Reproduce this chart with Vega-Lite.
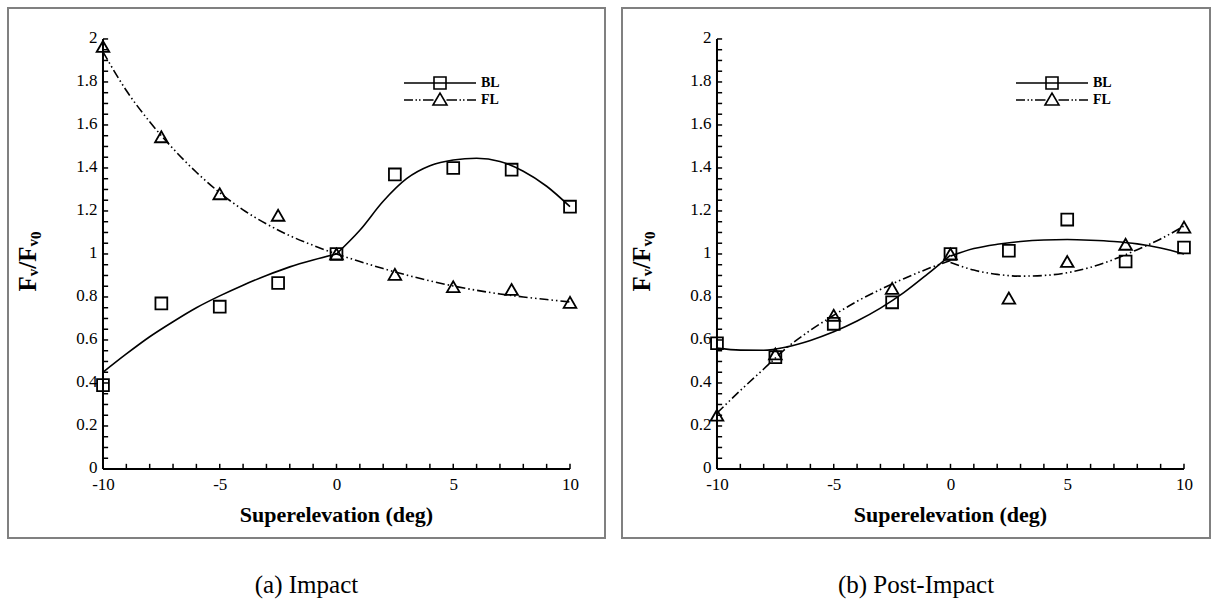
{
  "$schema": "https://vega.github.io/schema/vega-lite/v6.json",
  "padding": {"left": 7, "top": 7, "right": 0, "bottom": 0},
  "autosize": {"type": "pad"},
  "background": "white",
  "config": {
    "view": {"stroke": "#808080", "strokeWidth": 2},
    "font": "Liberation Serif",
    "axis": {"domain": false, "ticks": false, "grid": false, "labelFont": "Liberation Serif", "labelFontSize": 17, "labelColor": "black", "titleFont": "Liberation Serif", "titleFontSize": 22, "titleFontWeight": "bold", "titleColor": "black", "labelFlush": false, "labelOverlap": false}
  },
  "datasets": {
    "pts": [
      {"panel": "a", "series": "BL", "x": -10, "y": 0.39},
      {"panel": "a", "series": "BL", "x": -7.5, "y": 0.77},
      {"panel": "a", "series": "BL", "x": -5, "y": 0.755},
      {"panel": "a", "series": "BL", "x": -2.5, "y": 0.865},
      {"panel": "a", "series": "BL", "x": 0, "y": 1.0},
      {"panel": "a", "series": "BL", "x": 2.5, "y": 1.37},
      {"panel": "a", "series": "BL", "x": 5, "y": 1.4},
      {"panel": "a", "series": "BL", "x": 7.5, "y": 1.392},
      {"panel": "a", "series": "BL", "x": 10, "y": 1.22},
      {"panel": "a", "series": "FL", "x": -10, "y": 1.965},
      {"panel": "a", "series": "FL", "x": -7.5, "y": 1.545},
      {"panel": "a", "series": "FL", "x": -5, "y": 1.28},
      {"panel": "a", "series": "FL", "x": -2.5, "y": 1.18},
      {"panel": "a", "series": "FL", "x": 0, "y": 1.0},
      {"panel": "a", "series": "FL", "x": 2.5, "y": 0.905},
      {"panel": "a", "series": "FL", "x": 5, "y": 0.848},
      {"panel": "a", "series": "FL", "x": 7.5, "y": 0.835},
      {"panel": "a", "series": "FL", "x": 10, "y": 0.775},
      {"panel": "b", "series": "BL", "x": -10, "y": 0.585},
      {"panel": "b", "series": "BL", "x": -7.5, "y": 0.52},
      {"panel": "b", "series": "BL", "x": -5, "y": 0.675},
      {"panel": "b", "series": "BL", "x": -2.5, "y": 0.775},
      {"panel": "b", "series": "BL", "x": 0, "y": 1.0},
      {"panel": "b", "series": "BL", "x": 2.5, "y": 1.015},
      {"panel": "b", "series": "BL", "x": 5, "y": 1.16},
      {"panel": "b", "series": "BL", "x": 7.5, "y": 0.965},
      {"panel": "b", "series": "BL", "x": 10, "y": 1.03},
      {"panel": "b", "series": "FL", "x": -10, "y": 0.25},
      {"panel": "b", "series": "FL", "x": -7.5, "y": 0.535},
      {"panel": "b", "series": "FL", "x": -5, "y": 0.715},
      {"panel": "b", "series": "FL", "x": -2.5, "y": 0.84},
      {"panel": "b", "series": "FL", "x": 0, "y": 1.0},
      {"panel": "b", "series": "FL", "x": 2.5, "y": 0.795},
      {"panel": "b", "series": "FL", "x": 5, "y": 0.965},
      {"panel": "b", "series": "FL", "x": 7.5, "y": 1.045},
      {"panel": "b", "series": "FL", "x": 10, "y": 1.125}
    ],
    "curves": [
      {"panel": "a", "series": "BL", "part": "BL1", "x": -10, "y": 0.45},
      {"panel": "a", "series": "BL", "part": "BL1", "x": -9, "y": 0.535},
      {"panel": "a", "series": "BL", "part": "BL1", "x": -8, "y": 0.615},
      {"panel": "a", "series": "BL", "part": "BL1", "x": -7, "y": 0.685},
      {"panel": "a", "series": "BL", "part": "BL1", "x": -6, "y": 0.75},
      {"panel": "a", "series": "BL", "part": "BL1", "x": -5, "y": 0.805},
      {"panel": "a", "series": "BL", "part": "BL1", "x": -4, "y": 0.855},
      {"panel": "a", "series": "BL", "part": "BL1", "x": -3, "y": 0.9},
      {"panel": "a", "series": "BL", "part": "BL1", "x": -2, "y": 0.94},
      {"panel": "a", "series": "BL", "part": "BL1", "x": -1, "y": 0.972},
      {"panel": "a", "series": "BL", "part": "BL1", "x": 0, "y": 1.0},
      {"panel": "a", "series": "BL", "part": "BL2", "x": 0, "y": 1.0},
      {"panel": "a", "series": "BL", "part": "BL2", "x": 1, "y": 1.11},
      {"panel": "a", "series": "BL", "part": "BL2", "x": 2, "y": 1.245},
      {"panel": "a", "series": "BL", "part": "BL2", "x": 3, "y": 1.35},
      {"panel": "a", "series": "BL", "part": "BL2", "x": 4, "y": 1.41},
      {"panel": "a", "series": "BL", "part": "BL2", "x": 5, "y": 1.437},
      {"panel": "a", "series": "BL", "part": "BL2", "x": 6, "y": 1.445},
      {"panel": "a", "series": "BL", "part": "BL2", "x": 7, "y": 1.43},
      {"panel": "a", "series": "BL", "part": "BL2", "x": 8, "y": 1.385},
      {"panel": "a", "series": "BL", "part": "BL2", "x": 9, "y": 1.315},
      {"panel": "a", "series": "BL", "part": "BL2", "x": 10, "y": 1.22},
      {"panel": "a", "series": "FL", "part": "FL1", "x": -10, "y": 1.94},
      {"panel": "a", "series": "FL", "part": "FL1", "x": -9, "y": 1.76},
      {"panel": "a", "series": "FL", "part": "FL1", "x": -8, "y": 1.615},
      {"panel": "a", "series": "FL", "part": "FL1", "x": -7, "y": 1.49},
      {"panel": "a", "series": "FL", "part": "FL1", "x": -6, "y": 1.38},
      {"panel": "a", "series": "FL", "part": "FL1", "x": -5, "y": 1.285},
      {"panel": "a", "series": "FL", "part": "FL1", "x": -4, "y": 1.205},
      {"panel": "a", "series": "FL", "part": "FL1", "x": -3, "y": 1.14},
      {"panel": "a", "series": "FL", "part": "FL1", "x": -2, "y": 1.085},
      {"panel": "a", "series": "FL", "part": "FL1", "x": -1, "y": 1.04},
      {"panel": "a", "series": "FL", "part": "FL1", "x": 0, "y": 1.0},
      {"panel": "a", "series": "FL", "part": "FL1", "x": 1, "y": 0.965},
      {"panel": "a", "series": "FL", "part": "FL1", "x": 2, "y": 0.932},
      {"panel": "a", "series": "FL", "part": "FL1", "x": 3, "y": 0.902},
      {"panel": "a", "series": "FL", "part": "FL1", "x": 4, "y": 0.875},
      {"panel": "a", "series": "FL", "part": "FL1", "x": 5, "y": 0.851},
      {"panel": "a", "series": "FL", "part": "FL1", "x": 6, "y": 0.831},
      {"panel": "a", "series": "FL", "part": "FL1", "x": 7, "y": 0.814},
      {"panel": "a", "series": "FL", "part": "FL1", "x": 8, "y": 0.8},
      {"panel": "a", "series": "FL", "part": "FL1", "x": 9, "y": 0.788},
      {"panel": "a", "series": "FL", "part": "FL1", "x": 10, "y": 0.777},
      {"panel": "b", "series": "BL", "part": "BL1", "x": -10, "y": 0.562},
      {"panel": "b", "series": "BL", "part": "BL1", "x": -9, "y": 0.553},
      {"panel": "b", "series": "BL", "part": "BL1", "x": -8, "y": 0.552},
      {"panel": "b", "series": "BL", "part": "BL1", "x": -7, "y": 0.568},
      {"panel": "b", "series": "BL", "part": "BL1", "x": -6, "y": 0.598},
      {"panel": "b", "series": "BL", "part": "BL1", "x": -5, "y": 0.638},
      {"panel": "b", "series": "BL", "part": "BL1", "x": -4, "y": 0.688},
      {"panel": "b", "series": "BL", "part": "BL1", "x": -3, "y": 0.748},
      {"panel": "b", "series": "BL", "part": "BL1", "x": -2, "y": 0.82},
      {"panel": "b", "series": "BL", "part": "BL1", "x": -1, "y": 0.905},
      {"panel": "b", "series": "BL", "part": "BL1", "x": 0, "y": 0.995},
      {"panel": "b", "series": "BL", "part": "BL2", "x": 0, "y": 0.99},
      {"panel": "b", "series": "BL", "part": "BL2", "x": 1, "y": 1.025},
      {"panel": "b", "series": "BL", "part": "BL2", "x": 2, "y": 1.045},
      {"panel": "b", "series": "BL", "part": "BL2", "x": 3, "y": 1.058},
      {"panel": "b", "series": "BL", "part": "BL2", "x": 4, "y": 1.065},
      {"panel": "b", "series": "BL", "part": "BL2", "x": 5, "y": 1.067},
      {"panel": "b", "series": "BL", "part": "BL2", "x": 6, "y": 1.064},
      {"panel": "b", "series": "BL", "part": "BL2", "x": 7, "y": 1.058},
      {"panel": "b", "series": "BL", "part": "BL2", "x": 8, "y": 1.047},
      {"panel": "b", "series": "BL", "part": "BL2", "x": 9, "y": 1.028},
      {"panel": "b", "series": "BL", "part": "BL2", "x": 10, "y": 1.0},
      {"panel": "b", "series": "FL", "part": "FL1", "x": -10, "y": 0.26},
      {"panel": "b", "series": "FL", "part": "FL1", "x": -9, "y": 0.365},
      {"panel": "b", "series": "FL", "part": "FL1", "x": -8, "y": 0.465},
      {"panel": "b", "series": "FL", "part": "FL1", "x": -7, "y": 0.565},
      {"panel": "b", "series": "FL", "part": "FL1", "x": -6, "y": 0.645},
      {"panel": "b", "series": "FL", "part": "FL1", "x": -5, "y": 0.715},
      {"panel": "b", "series": "FL", "part": "FL1", "x": -4, "y": 0.78},
      {"panel": "b", "series": "FL", "part": "FL1", "x": -3, "y": 0.835},
      {"panel": "b", "series": "FL", "part": "FL1", "x": -2, "y": 0.885},
      {"panel": "b", "series": "FL", "part": "FL1", "x": -1, "y": 0.93},
      {"panel": "b", "series": "FL", "part": "FL1", "x": 0, "y": 0.97},
      {"panel": "b", "series": "FL", "part": "FL2", "x": 0, "y": 0.96},
      {"panel": "b", "series": "FL", "part": "FL2", "x": 1, "y": 0.925},
      {"panel": "b", "series": "FL", "part": "FL2", "x": 2, "y": 0.905},
      {"panel": "b", "series": "FL", "part": "FL2", "x": 3, "y": 0.897},
      {"panel": "b", "series": "FL", "part": "FL2", "x": 4, "y": 0.9},
      {"panel": "b", "series": "FL", "part": "FL2", "x": 5, "y": 0.913},
      {"panel": "b", "series": "FL", "part": "FL2", "x": 6, "y": 0.938},
      {"panel": "b", "series": "FL", "part": "FL2", "x": 7, "y": 0.975},
      {"panel": "b", "series": "FL", "part": "FL2", "x": 8, "y": 1.02},
      {"panel": "b", "series": "FL", "part": "FL2", "x": 9, "y": 1.07},
      {"panel": "b", "series": "FL", "part": "FL2", "x": 10, "y": 1.13}
    ],
    "ticks": [
      {"axis": "x", "v": -10, "kind": "major"}, {"axis": "x", "v": -9, "kind": "minor"}, {"axis": "x", "v": -8, "kind": "minor"}, {"axis": "x", "v": -7, "kind": "minor"}, {"axis": "x", "v": -6, "kind": "minor"},
      {"axis": "x", "v": -5, "kind": "major"}, {"axis": "x", "v": -4, "kind": "minor"}, {"axis": "x", "v": -3, "kind": "minor"}, {"axis": "x", "v": -2, "kind": "minor"}, {"axis": "x", "v": -1, "kind": "minor"},
      {"axis": "x", "v": 0, "kind": "major"}, {"axis": "x", "v": 1, "kind": "minor"}, {"axis": "x", "v": 2, "kind": "minor"}, {"axis": "x", "v": 3, "kind": "minor"}, {"axis": "x", "v": 4, "kind": "minor"},
      {"axis": "x", "v": 5, "kind": "major"}, {"axis": "x", "v": 6, "kind": "minor"}, {"axis": "x", "v": 7, "kind": "minor"}, {"axis": "x", "v": 8, "kind": "minor"}, {"axis": "x", "v": 9, "kind": "minor"},
      {"axis": "x", "v": 10, "kind": "major"},
      {"axis": "y", "v": 0, "kind": "major"}, {"axis": "y", "v": 0.05, "kind": "minor"}, {"axis": "y", "v": 0.1, "kind": "minor"}, {"axis": "y", "v": 0.15, "kind": "minor"},
      {"axis": "y", "v": 0.2, "kind": "major"}, {"axis": "y", "v": 0.25, "kind": "minor"}, {"axis": "y", "v": 0.3, "kind": "minor"}, {"axis": "y", "v": 0.35, "kind": "minor"},
      {"axis": "y", "v": 0.4, "kind": "major"}, {"axis": "y", "v": 0.45, "kind": "minor"}, {"axis": "y", "v": 0.5, "kind": "minor"}, {"axis": "y", "v": 0.55, "kind": "minor"},
      {"axis": "y", "v": 0.6, "kind": "major"}, {"axis": "y", "v": 0.65, "kind": "minor"}, {"axis": "y", "v": 0.7, "kind": "minor"}, {"axis": "y", "v": 0.75, "kind": "minor"},
      {"axis": "y", "v": 0.8, "kind": "major"}, {"axis": "y", "v": 0.85, "kind": "minor"}, {"axis": "y", "v": 0.9, "kind": "minor"}, {"axis": "y", "v": 0.95, "kind": "minor"},
      {"axis": "y", "v": 1.0, "kind": "major"}, {"axis": "y", "v": 1.05, "kind": "minor"}, {"axis": "y", "v": 1.1, "kind": "minor"}, {"axis": "y", "v": 1.15, "kind": "minor"},
      {"axis": "y", "v": 1.2, "kind": "major"}, {"axis": "y", "v": 1.25, "kind": "minor"}, {"axis": "y", "v": 1.3, "kind": "minor"}, {"axis": "y", "v": 1.35, "kind": "minor"},
      {"axis": "y", "v": 1.4, "kind": "major"}, {"axis": "y", "v": 1.45, "kind": "minor"}, {"axis": "y", "v": 1.5, "kind": "minor"}, {"axis": "y", "v": 1.55, "kind": "minor"},
      {"axis": "y", "v": 1.6, "kind": "major"}, {"axis": "y", "v": 1.65, "kind": "minor"}, {"axis": "y", "v": 1.7, "kind": "minor"}, {"axis": "y", "v": 1.75, "kind": "minor"},
      {"axis": "y", "v": 1.8, "kind": "major"}, {"axis": "y", "v": 1.85, "kind": "minor"}, {"axis": "y", "v": 1.9, "kind": "minor"}, {"axis": "y", "v": 1.95, "kind": "minor"},
      {"axis": "y", "v": 2.0, "kind": "major"}
    ]
  },
  "spacing": 14,
  "resolve": {"scale": {"x": "independent", "y": "independent", "shape": "independent"}, "legend": {"shape": "independent"}},
  "hconcat": [
    {
      "width": 597,
      "height": 530,
      "title": {"text": "(a) Impact", "orient": "bottom", "anchor": "middle", "frame": "group", "offset": 35, "font": "Liberation Serif", "fontSize": 25, "fontWeight": "normal", "color": "black"},
      "layer": [
        {
          "data": {"values": [{}]},
          "mark": {"type": "rule", "color": "black", "strokeWidth": 2},
          "encoding": {
            "x": {"datum": -10, "type": "quantitative", "scale": {"domain": [-14.068, 11.499], "nice": false, "zero": false},
              "axis": {"values": [-10, -5, 0, 5, 10], "offset": -69, "labelExpr": "'' + datum.value", "labelPadding": 7, "title": "Superelevation (deg)", "titleX": 328, "titleY": 45, "titleAlign": "center", "titleBaseline": "middle"}},
            "x2": {"datum": 10},
            "y": {"datum": 0, "type": "quantitative", "scale": {"domain": [-0.321, 2.144], "nice": false, "zero": false},
              "axis": {"values": [0, 0.2, 0.4, 0.6, 0.8, 1, 1.2, 1.4, 1.6, 1.8, 2], "offset": -95, "labelExpr": "'' + datum.value", "labelPadding": 6, "labelOffset": -1, "title": "Fᵥ/Fᵥ₀", "titleFontSize": 25, "titleX": -76, "titleY": 253, "titleAngle": -90, "titleAlign": "center", "titleBaseline": "middle"}}
          }
        },
        {
          "data": {"values": [{}]},
          "mark": {"type": "rule", "color": "black", "strokeWidth": 2},
          "encoding": {
            "x": {"datum": -10, "type": "quantitative", "scale": {"domain": [-14.068, 11.499], "nice": false, "zero": false}},
            "y": {"datum": 0, "type": "quantitative", "scale": {"domain": [-0.321, 2.144], "nice": false, "zero": false}},
            "y2": {"datum": 2}
          }
        },
        {
          "data": {"name": "ticks"},
          "transform": [{"filter": "datum.axis == 'x'"}],
          "mark": {"type": "rule", "color": "black", "strokeWidth": 1.5},
          "encoding": {
            "x": {"field": "v", "type": "quantitative", "scale": {"domain": [-14.068, 11.499], "nice": false, "zero": false}},
            "y": {"datum": 0, "type": "quantitative", "scale": {"domain": [-0.321, 2.144], "nice": false, "zero": false}},
            "y2": {"condition": {"test": "datum.kind == 'major'", "datum": 0.044}, "datum": 0.024}
          }
        },
        {
          "data": {"name": "ticks"},
          "transform": [{"filter": "datum.axis == 'y'"}],
          "mark": {"type": "rule", "color": "black", "strokeWidth": 1.5},
          "encoding": {
            "y": {"field": "v", "type": "quantitative", "scale": {"domain": [-0.321, 2.144], "nice": false, "zero": false}},
            "x": {"datum": -10, "type": "quantitative", "scale": {"domain": [-14.068, 11.499], "nice": false, "zero": false}},
            "x2": {"condition": {"test": "datum.kind == 'major'", "datum": -9.6}, "datum": -9.78}
          }
        },
        {
          "data": {"name": "curves"},
          "transform": [{"filter": "datum.panel == 'a' && datum.series == 'BL'"}],
          "mark": {"type": "line", "color": "black", "strokeWidth": 1.6, "interpolate": "monotone"},
          "encoding": {
            "x": {"field": "x", "type": "quantitative", "scale": {"domain": [-14.068, 11.499], "nice": false, "zero": false}},
            "y": {"field": "y", "type": "quantitative", "scale": {"domain": [-0.321, 2.144], "nice": false, "zero": false}},
            "detail": {"field": "part"}
          }
        },
        {
          "data": {"name": "curves"},
          "transform": [{"filter": "datum.panel == 'a' && datum.series == 'FL'"}],
          "mark": {"type": "line", "color": "black", "strokeWidth": 1.6, "interpolate": "monotone", "strokeDash": [9, 3, 1.5, 3, 1.5, 3]},
          "encoding": {
            "x": {"field": "x", "type": "quantitative", "scale": {"domain": [-14.068, 11.499], "nice": false, "zero": false}},
            "y": {"field": "y", "type": "quantitative", "scale": {"domain": [-0.321, 2.144], "nice": false, "zero": false}},
            "detail": {"field": "part"}
          }
        },
        {
          "data": {"name": "pts"},
          "transform": [{"filter": "datum.panel == 'a' && datum.series == 'BL'"}],
          "mark": {"type": "point", "shape": "square", "filled": false, "color": "black", "strokeWidth": 1.8, "size": 140, "opacity": 1},
          "encoding": {
            "x": {"field": "x", "type": "quantitative", "scale": {"domain": [-14.068, 11.499], "nice": false, "zero": false}},
            "y": {"field": "y", "type": "quantitative", "scale": {"domain": [-0.321, 2.144], "nice": false, "zero": false}}
          }
        },
        {
          "data": {"name": "pts"},
          "transform": [{"filter": "datum.panel == 'a' && datum.series == 'FL'"}],
          "mark": {"type": "point", "shape": "triangle-up", "filled": false, "color": "black", "strokeWidth": 1.8, "size": 160, "opacity": 1},
          "encoding": {
            "x": {"field": "x", "type": "quantitative", "scale": {"domain": [-14.068, 11.499], "nice": false, "zero": false}},
            "y": {"field": "y", "type": "quantitative", "scale": {"domain": [-0.321, 2.144], "nice": false, "zero": false}}
          }
        },
        {
          "data": {"name": "pts"},
          "transform": [{"filter": "datum.panel == 'a'"}],
          "mark": {"type": "point", "filled": false, "color": "black", "strokeWidth": 1.6, "size": 100, "opacity": 0},
          "encoding": {
            "x": {"field": "x", "type": "quantitative", "scale": {"domain": [-14.068, 11.499], "nice": false, "zero": false}},
            "y": {"field": "y", "type": "quantitative", "scale": {"domain": [-0.321, 2.144], "nice": false, "zero": false}},
            "shape": {"field": "series", "type": "nominal", "scale": {"domain": ["BL", "FL"], "range": ["M-7.2,0H7.2M-1.2,-1.2H1.2V1.2H-1.2Z", "M-7.2,0H-5.4M-4.9,0H-4.6M-4.2,0H-3.9M-3.4,0H-1.3M-1.4,1L0,-1.4L1.4,1ZM1.3,0H3.4M3.9,0H4.2M4.6,0H4.9M5.4,0H7.2"]},
              "legend": {"orient": "none", "legendX": 425, "legendY": 68, "title": null, "padding": 0, "symbolSize": 100, "symbolStrokeWidth": 1.6, "symbolOpacity": 1, "symbolStrokeColor": "black", "symbolFillColor": "transparent", "labelFont": "Liberation Serif", "labelFontWeight": "bold", "labelFontSize": 14, "labelColor": "black", "labelOffset": 34, "rowPadding": -4,
                "encode": {"symbols": {"stroke": {"value": "black"}, "fill": {"value": "transparent"}, "opacity": {"value": 1}}}}}
          }
        }
      ]
    },
    {
      "width": 588,
      "height": 530,
      "title": {"text": "(b) Post-Impact", "orient": "bottom", "anchor": "middle", "frame": "group", "offset": 35, "font": "Liberation Serif", "fontSize": 25, "fontWeight": "normal", "color": "black"},
      "layer": [
        {
          "data": {"values": [{}]},
          "mark": {"type": "rule", "color": "black", "strokeWidth": 2},
          "encoding": {
            "x": {"datum": -10, "type": "quantitative", "scale": {"domain": [-14.068, 11.114], "nice": false, "zero": false},
              "axis": {"values": [-10, -5, 0, 5, 10], "offset": -69, "labelExpr": "'' + datum.value", "labelPadding": 7, "title": "Superelevation (deg)", "titleX": 328, "titleY": 45, "titleAlign": "center", "titleBaseline": "middle"}},
            "x2": {"datum": 10},
            "y": {"datum": 0, "type": "quantitative", "scale": {"domain": [-0.321, 2.144], "nice": false, "zero": false},
              "axis": {"values": [0, 0.2, 0.4, 0.6, 0.8, 1, 1.2, 1.4, 1.6, 1.8, 2], "offset": -95, "labelExpr": "'' + datum.value", "labelPadding": 6, "labelOffset": -1, "title": "Fᵥ/Fᵥ₀", "titleFontSize": 25, "titleX": -76, "titleY": 253, "titleAngle": -90, "titleAlign": "center", "titleBaseline": "middle"}}
          }
        },
        {
          "data": {"values": [{}]},
          "mark": {"type": "rule", "color": "black", "strokeWidth": 2},
          "encoding": {
            "x": {"datum": -10, "type": "quantitative", "scale": {"domain": [-14.068, 11.114], "nice": false, "zero": false}},
            "y": {"datum": 0, "type": "quantitative", "scale": {"domain": [-0.321, 2.144], "nice": false, "zero": false}},
            "y2": {"datum": 2}
          }
        },
        {
          "data": {"name": "ticks"},
          "transform": [{"filter": "datum.axis == 'x'"}],
          "mark": {"type": "rule", "color": "black", "strokeWidth": 1.5},
          "encoding": {
            "x": {"field": "v", "type": "quantitative", "scale": {"domain": [-14.068, 11.114], "nice": false, "zero": false}},
            "y": {"datum": 0, "type": "quantitative", "scale": {"domain": [-0.321, 2.144], "nice": false, "zero": false}},
            "y2": {"condition": {"test": "datum.kind == 'major'", "datum": 0.044}, "datum": 0.024}
          }
        },
        {
          "data": {"name": "ticks"},
          "transform": [{"filter": "datum.axis == 'y'"}],
          "mark": {"type": "rule", "color": "black", "strokeWidth": 1.5},
          "encoding": {
            "y": {"field": "v", "type": "quantitative", "scale": {"domain": [-0.321, 2.144], "nice": false, "zero": false}},
            "x": {"datum": -10, "type": "quantitative", "scale": {"domain": [-14.068, 11.114], "nice": false, "zero": false}},
            "x2": {"condition": {"test": "datum.kind == 'major'", "datum": -9.6}, "datum": -9.78}
          }
        },
        {
          "data": {"name": "curves"},
          "transform": [{"filter": "datum.panel == 'b' && datum.series == 'BL'"}],
          "mark": {"type": "line", "color": "black", "strokeWidth": 1.6, "interpolate": "monotone"},
          "encoding": {
            "x": {"field": "x", "type": "quantitative", "scale": {"domain": [-14.068, 11.114], "nice": false, "zero": false}},
            "y": {"field": "y", "type": "quantitative", "scale": {"domain": [-0.321, 2.144], "nice": false, "zero": false}},
            "detail": {"field": "part"}
          }
        },
        {
          "data": {"name": "curves"},
          "transform": [{"filter": "datum.panel == 'b' && datum.series == 'FL'"}],
          "mark": {"type": "line", "color": "black", "strokeWidth": 1.6, "interpolate": "monotone", "strokeDash": [9, 3, 1.5, 3, 1.5, 3]},
          "encoding": {
            "x": {"field": "x", "type": "quantitative", "scale": {"domain": [-14.068, 11.114], "nice": false, "zero": false}},
            "y": {"field": "y", "type": "quantitative", "scale": {"domain": [-0.321, 2.144], "nice": false, "zero": false}},
            "detail": {"field": "part"}
          }
        },
        {
          "data": {"name": "pts"},
          "transform": [{"filter": "datum.panel == 'b' && datum.series == 'BL'"}],
          "mark": {"type": "point", "shape": "square", "filled": false, "color": "black", "strokeWidth": 1.8, "size": 140, "opacity": 1},
          "encoding": {
            "x": {"field": "x", "type": "quantitative", "scale": {"domain": [-14.068, 11.114], "nice": false, "zero": false}},
            "y": {"field": "y", "type": "quantitative", "scale": {"domain": [-0.321, 2.144], "nice": false, "zero": false}}
          }
        },
        {
          "data": {"name": "pts"},
          "transform": [{"filter": "datum.panel == 'b' && datum.series == 'FL'"}],
          "mark": {"type": "point", "shape": "triangle-up", "filled": false, "color": "black", "strokeWidth": 1.8, "size": 160, "opacity": 1},
          "encoding": {
            "x": {"field": "x", "type": "quantitative", "scale": {"domain": [-14.068, 11.114], "nice": false, "zero": false}},
            "y": {"field": "y", "type": "quantitative", "scale": {"domain": [-0.321, 2.144], "nice": false, "zero": false}}
          }
        },
        {
          "data": {"name": "pts"},
          "transform": [{"filter": "datum.panel == 'b'"}],
          "mark": {"type": "point", "filled": false, "color": "black", "strokeWidth": 1.6, "size": 100, "opacity": 0},
          "encoding": {
            "x": {"field": "x", "type": "quantitative", "scale": {"domain": [-14.068, 11.114], "nice": false, "zero": false}},
            "y": {"field": "y", "type": "quantitative", "scale": {"domain": [-0.321, 2.144], "nice": false, "zero": false}},
            "shape": {"field": "series", "type": "nominal", "scale": {"domain": ["BL", "FL"], "range": ["M-7.2,0H7.2M-1.2,-1.2H1.2V1.2H-1.2Z", "M-7.2,0H-5.4M-4.9,0H-4.6M-4.2,0H-3.9M-3.4,0H-1.3M-1.4,1L0,-1.4L1.4,1ZM1.3,0H3.4M3.9,0H4.2M4.6,0H4.9M5.4,0H7.2"]},
              "legend": {"orient": "none", "legendX": 423, "legendY": 68, "title": null, "padding": 0, "symbolSize": 100, "symbolStrokeWidth": 1.6, "symbolOpacity": 1, "symbolStrokeColor": "black", "symbolFillColor": "transparent", "labelFont": "Liberation Serif", "labelFontWeight": "bold", "labelFontSize": 14, "labelColor": "black", "labelOffset": 34, "rowPadding": -4,
                "encode": {"symbols": {"stroke": {"value": "black"}, "fill": {"value": "transparent"}, "opacity": {"value": 1}}}}}
          }
        }
      ]
    }
  ]
}
